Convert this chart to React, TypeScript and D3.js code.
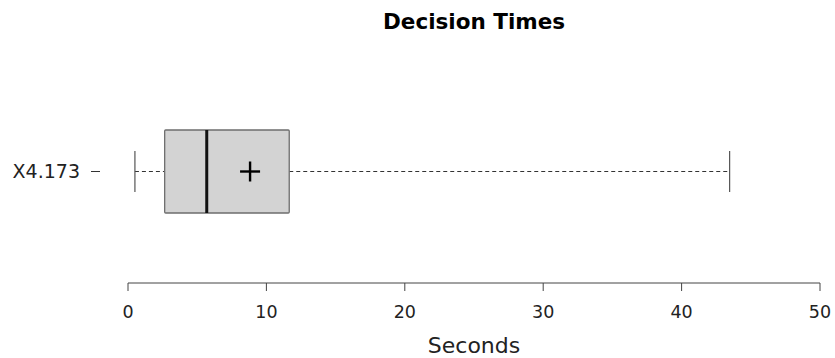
import React from "react";
import * as d3 from "d3";

const categories = ["X4.173"];
const minVals = [0.5];
const q1Vals = [2.65];
const medianVals = [5.69];
const q3Vals = [11.65];
const maxVals = [43.47];
const meanVals = [8.82];
const xTicks = [0, 10, 20, 30, 40, 50];

const W = 835, H = 358;

export default function App() {
  const x = d3.scaleLinear().domain([0, 50]).range([128, 820]);
  const y = d3.scaleBand<string>().domain(categories).range([130, 213]);
  const font = "DejaVu Sans, sans-serif";
  return (
    <svg width={W} height={H} style={{ position: "absolute", left: 0, top: 0 }} fontFamily={font}>
      <text x={474} y={29} textAnchor="middle" fontWeight="bold" fontSize={21.5} fill="#000">Decision Times</text>
      {categories.map((c, i) => {
        const y0 = y(c)!;
        const bw = y.bandwidth();
        const cy = y0 + bw / 2;
        const capH = 41;
        return (
          <g key={c}>
            <line x1={x(minVals[i])} x2={x(q1Vals[i])} y1={cy} y2={cy} stroke="#333" strokeWidth={1} strokeDasharray="4,3" />
            <line x1={x(q3Vals[i])} x2={x(maxVals[i])} y1={cy} y2={cy} stroke="#333" strokeWidth={1} strokeDasharray="4,3" />
            <line x1={x(minVals[i])} x2={x(minVals[i])} y1={cy - capH / 2} y2={cy + capH / 2} stroke="#555" strokeWidth={1.2} />
            <line x1={x(maxVals[i])} x2={x(maxVals[i])} y1={cy - capH / 2} y2={cy + capH / 2} stroke="#555" strokeWidth={1.2} />
            <rect x={x(q1Vals[i])} y={y0} width={x(q3Vals[i]) - x(q1Vals[i])} height={bw} fill="#d3d3d3" stroke="#6e6e6e" strokeWidth={1.3} rx={1} />
            <line x1={x(medianVals[i])} x2={x(medianVals[i])} y1={y0} y2={y0 + bw} stroke="#111" strokeWidth={3} />
            <line x1={x(meanVals[i]) - 10} x2={x(meanVals[i]) + 10} y1={cy} y2={cy} stroke="#000" strokeWidth={2.4} />
            <line x1={x(meanVals[i])} x2={x(meanVals[i])} y1={cy - 10} y2={cy + 10} stroke="#000" strokeWidth={2.4} />
            <line x1={91} x2={100} y1={cy} y2={cy} stroke="#333" strokeWidth={1} />
            <text x={80} y={cy} dy="0.36em" textAnchor="end" fontSize={19} fill="#222">{c}</text>
          </g>
        );
      })}
      <line x1={x(0)} x2={x(50)} y1={283} y2={283} stroke="#444" strokeWidth={1} />
      {xTicks.map((t) => (
        <g key={t}>
          <line x1={x(t)} x2={x(t)} y1={283} y2={291} stroke="#444" strokeWidth={1} />
          <text x={x(t)} y={318} textAnchor="middle" fontSize={17.5} fill="#222">{t}</text>
        </g>
      ))}
      <text x={474} y={353} textAnchor="middle" fontSize={22} fill="#222">Seconds</text>
    </svg>
  );
}
